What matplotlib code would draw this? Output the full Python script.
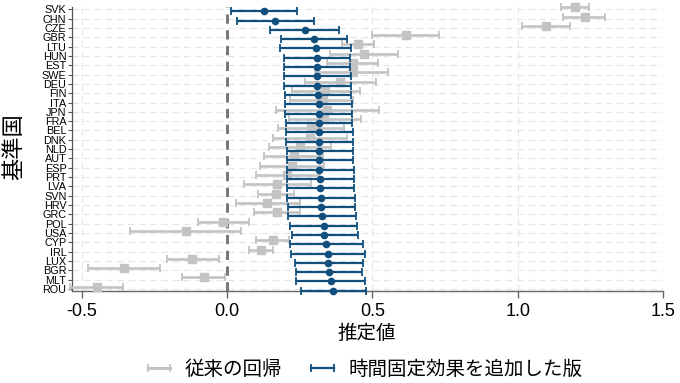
import matplotlib
matplotlib.use("Agg")
import matplotlib.pyplot as plt
from matplotlib.lines import Line2D
import numpy as np

plt.rcParams['font.family'] = ['Liberation Sans', 'Noto Sans CJK JP', 'DejaVu Sans']

countries = ["SVK", "CHN", "CZE", "GBR", "LTU", "HUN", "EST", "SWE", "DEU", "FIN",
             "ITA", "JPN", "FRA", "BEL", "DNK", "NLD", "AUT", "ESP", "PRT", "LVA",
             "SVN", "HRV", "GRC", "POL", "USA", "CYP", "IRL", "LUX", "BGR", "MLT", "ROU"]

# Conventional regression (gray)
old_est = [1.197, 1.230, 1.098, 0.615, 0.451, 0.471, 0.435, 0.434, 0.390, 0.339,
           0.332, 0.344, 0.334, 0.290, 0.284, 0.250, 0.230, 0.223, 0.208, 0.172,
           0.168, 0.137, 0.172, -0.014, -0.141, 0.158, 0.117, -0.119, -0.353, -0.080, -0.447]
old_lo = [1.149, 1.156, 1.015, 0.500, 0.395, 0.353, 0.344, 0.303, 0.269, 0.224,
          0.218, 0.169, 0.212, 0.174, 0.157, 0.143, 0.129, 0.114, 0.100, 0.060,
          0.106, 0.031, 0.094, -0.101, -0.332, 0.101, 0.076, -0.206, -0.478, -0.155, -0.540]
old_hi = [1.245, 1.302, 1.181, 0.729, 0.505, 0.590, 0.518, 0.555, 0.512, 0.458,
          0.433, 0.524, 0.460, 0.403, 0.412, 0.358, 0.332, 0.335, 0.315, 0.289,
          0.232, 0.250, 0.250, 0.076, 0.049, 0.212, 0.157, -0.029, -0.232, -0.006, -0.357]

# With time fixed effects (blue)
new_est = [0.128, 0.167, 0.267, 0.300, 0.305, 0.309, 0.309, 0.310, 0.311, 0.313,
           0.315, 0.315, 0.315, 0.316, 0.317, 0.317, 0.318, 0.318, 0.319, 0.319,
           0.323, 0.324, 0.327, 0.333, 0.335, 0.341, 0.347, 0.348, 0.350, 0.357, 0.366]
new_lo = [0.015, 0.034, 0.148, 0.187, 0.183, 0.195, 0.195, 0.196, 0.197, 0.200,
          0.201, 0.201, 0.203, 0.204, 0.204, 0.205, 0.205, 0.205, 0.206, 0.206,
          0.206, 0.209, 0.210, 0.218, 0.223, 0.216, 0.222, 0.233, 0.237, 0.239, 0.255]
new_hi = [0.240, 0.300, 0.384, 0.413, 0.426, 0.425, 0.425, 0.426, 0.427, 0.428,
          0.430, 0.430, 0.431, 0.433, 0.433, 0.434, 0.435, 0.436, 0.437, 0.437,
          0.439, 0.440, 0.445, 0.448, 0.450, 0.467, 0.474, 0.467, 0.465, 0.474, 0.480]

xticks = [-0.5, 0.0, 0.5, 1.0, 1.5]
xticklabels = ["-0.5", "0.0", "0.5", "1.0", "1.5"]
label_old = "従来の回帰"
label_new = "時間固定効果を追加した版"

GRAY = "#c3c3c3"
BLUE = "#11507e"

W, H = 680, 383
fig = plt.figure(figsize=(W / 100, H / 100), dpi=100)
ax = fig.add_axes([72 / W, 1 - 291 / H, (663 - 72) / W, (291 - 7) / H])

y = np.arange(len(countries))
oe, ol, oh = map(np.array, (old_est, old_lo, old_hi))
ne, nl, nh = map(np.array, (new_est, new_lo, new_hi))

ax.axvline(0, color="#767676", lw=2.1, linestyle=(0, (3.2, 2.2)), zorder=2)

ax.errorbar(oe, y - 0.23, xerr=[oe - ol, oh - oe], fmt="s", color=GRAY,
            ecolor=GRAY, elinewidth=1.9, capsize=3.0, capthick=1.3,
            markersize=5.5, zorder=3, clip_on=False)
ax.errorbar(ne, y + 0.2, xerr=[ne - nl, nh - ne], fmt="o", color=BLUE,
            ecolor=BLUE, elinewidth=1.6, capsize=3.2, capthick=1.3,
            markersize=4.5, zorder=4, clip_on=False)

ax.set_xlim(-0.533, 1.5)
ax.set_ylim(30.22, -0.25)
ax.set_yticks(y)
ax.set_yticklabels(countries, fontsize=7.8)
ax.set_xticks(xticks)
ax.set_xticklabels(xticklabels, fontsize=13)

ax.set_axisbelow(True)
for yy in y:
    ax.axhline(yy, color="#e6e6e6", lw=0.8, linestyle=(0, (6, 4)), zorder=0)
for xx in [-0.5, 0.5, 1.0, 1.5]:
    ax.axvline(xx, color="#e6e6e6", lw=0.8, linestyle=(0, (6, 4)), zorder=0)

for s in ["top", "right"]:
    ax.spines[s].set_visible(False)
ax.spines["left"].set_color("#555555")
ax.spines["bottom"].set_color("#666666")
ax.spines["left"].set_linewidth(0.9)
ax.spines["bottom"].set_linewidth(1.0)
ax.tick_params(axis="y", length=3, width=0.8, color="#555555", pad=1)
ax.tick_params(axis="x", length=5, width=1.0, color="#666666", pad=4)

fig.text(15 / W, 1 - 147 / H, "基準国", rotation=90, ha="center", va="center",
         fontsize=16)
fig.text(367 / W, 1 - 334 / H, "推定値", ha="center", va="center", fontsize=14)

h1 = Line2D([], [], color=GRAY, lw=2.2, marker="|", markersize=6, markeredgewidth=1.3)
h2 = Line2D([], [], color=BLUE, lw=1.6, marker="|", markersize=6, markeredgewidth=1.3)
fig.legend([h1, h2], [label_old, label_new], loc="center",
           bbox_to_anchor=(362 / W, 1 - 370 / H), ncol=2, frameon=False,
           numpoints=2, fontsize=14, handlelength=1.75, handletextpad=0.45,
           columnspacing=1.2)

fig.savefig("out.png", dpi=100)
